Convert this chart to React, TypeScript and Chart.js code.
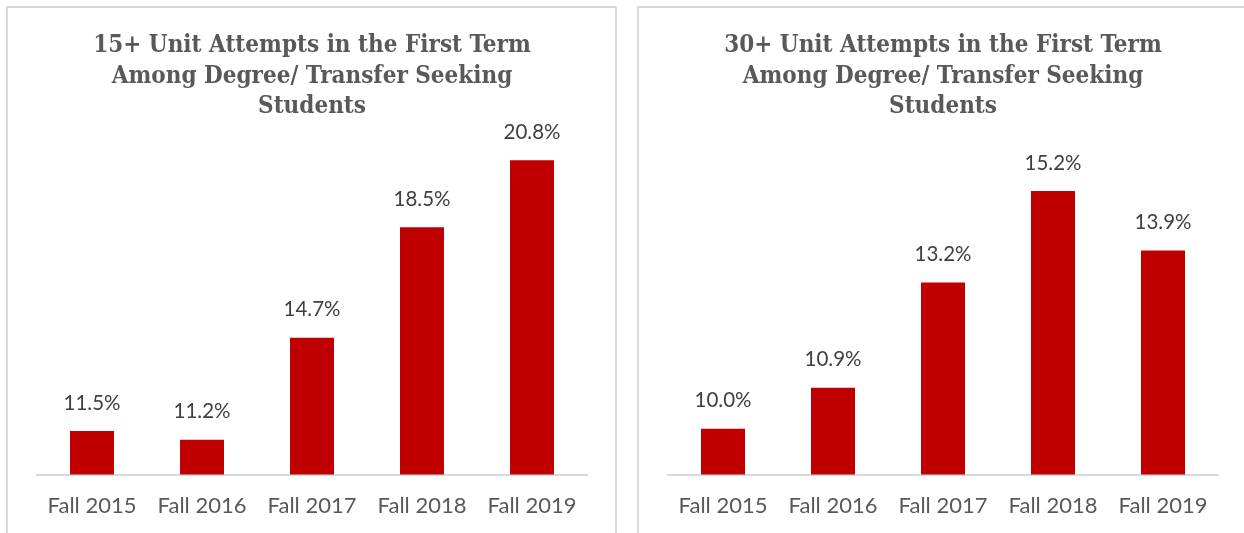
import React, { useEffect, useRef } from "react";
import { Chart, registerables } from "chart.js";

Chart.register(...registerables);

const categories = ["Fall 2015", "Fall 2016", "Fall 2017", "Fall 2018", "Fall 2019"];
const values15 = [11.5, 11.2, 14.7, 18.5, 20.8];
const values30 = [10.0, 10.9, 13.2, 15.2, 13.9];
const title15 = ["15+ Unit Attempts in the First Term", "Among Degree/ Transfer Seeking", "Students"];
const title30 = ["30+ Unit Attempts in the First Term", "Among Degree/ Transfer Seeking", "Students"];

const BAR_COLOR = "#C00000";
const TEXT_GRAY = "#595959";
const LABEL_GRAY = "#404040";
const BORDER_GRAY = "#d9d9d9";
const BODY_FONT = "Lato, 'Open Sans', sans-serif";
const TITLE_FONT = "'DejaVu Serif Condensed', 'Liberation Serif', serif";

const valueLabels = {
  id: "valueLabels",
  afterDatasetsDraw(chart: any) {
    const ctx = chart.ctx;
    chart.data.datasets.forEach((ds: any, i: number) => {
      const meta = chart.getDatasetMeta(i);
      meta.data.forEach((bar: any, j: number) => {
        const v = ds.data[j];
        ctx.save();
        ctx.fillStyle = LABEL_GRAY;
        ctx.font = `20.5px ${BODY_FONT}`;
        ctx.textAlign = "center";
        ctx.textBaseline = "middle";
        ctx.fillText(v.toFixed(1) + "%", bar.x, bar.y - 28);
        ctx.restore();
      });
    });
  },
};

function BarPanel(props: {
  title: string[];
  data: number[];
  yMin: number;
  yMax: number;
  titleBottom: number;
  left: number;
}) {
  const ref = useRef<HTMLCanvasElement>(null);
  useEffect(() => {
    if (!ref.current) return;
    const chart = new Chart(ref.current, {
      type: "bar",
      data: {
        labels: categories,
        datasets: [
          {
            data: props.data,
            backgroundColor: BAR_COLOR,
            categoryPercentage: 1,
            barPercentage: 0.4,
          },
        ],
      },
      options: {
        animation: false,
        responsive: false,
        maintainAspectRatio: false,
        layout: { padding: { left: 29, right: 28, top: 0, bottom: 14 } },
        plugins: {
          legend: { display: false },
          tooltip: { enabled: false },
          title: {
            display: true,
            text: props.title,
            color: TEXT_GRAY,
            font: { family: TITLE_FONT, size: 24, weight: "bold", lineHeight: 1.27 },
            padding: { top: 23, bottom: props.titleBottom },
          },
        },
        scales: {
          x: {
            grid: { display: false, drawTicks: false },
            border: { display: true, color: BORDER_GRAY, width: 2 },
            ticks: { color: TEXT_GRAY, font: { family: BODY_FONT, size: 22 }, padding: 18 },
          },
          y: {
            display: false,
            min: props.yMin,
            max: props.yMax,
          },
        },
      },
      plugins: [valueLabels],
    });
    return () => chart.destroy();
  }, []);
  return (
    <div
      style={{
        position: "absolute",
        left: props.left,
        top: 6,
        width: 607,
        height: 560,
        border: `2px solid ${BORDER_GRAY}`,
        background: "#fff",
      }}
    >
      <canvas ref={ref} width={607} height={543} style={{ display: "block" }} />
    </div>
  );
}

export default function App() {
  useEffect(() => {
    document.body.style.margin = "0";
    document.body.style.overflow = "hidden";
  }, []);
  return (
    <div style={{ position: "relative", width: 1244, height: 533, overflow: "hidden", background: "#fff" }}>
      <BarPanel title={title15} data={values15} yMin={10} yMax={22} titleBottom={3} left={6} />
      <BarPanel title={title30} data={values30} yMin={9} yMax={16} titleBottom={32} left={637} />
    </div>
  );
}
